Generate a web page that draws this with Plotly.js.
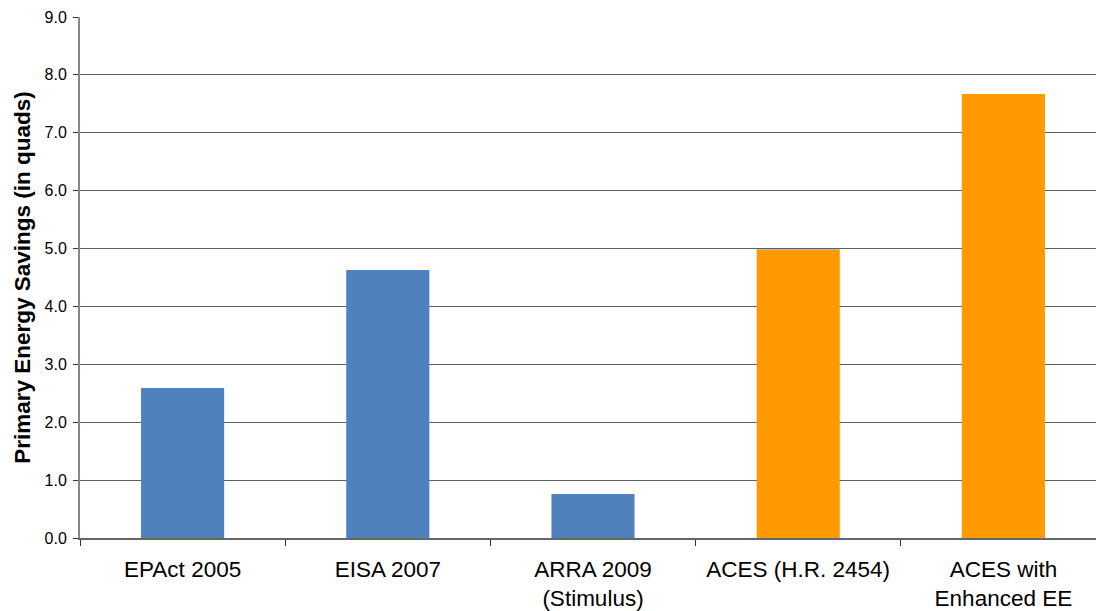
<!DOCTYPE html>
<html>
<head>
<meta charset="utf-8">
<script src="https://cdn.plot.ly/plotly-3.0.1.min.js"></script>
<style>
html, body { margin: 0; padding: 0; overflow: hidden; background: #fff; }
#chart { width: 1106px; height: 611px; }
</style>
</head>
<body>
<div id="chart"></div>
<script>
// Data
const categories = ['EPAct 2005', 'EISA 2007', 'ARRA 2009<br>(Stimulus)', 'ACES (H.R. 2454)', 'ACES with<br>Enhanced EE'];
const savings = [2.59, 4.63, 0.76, 4.99, 7.67];
const groups = ['enacted', 'enacted', 'enacted', 'proposed', 'proposed'];
const yTicks = [0, 1, 2, 3, 4, 5, 6, 7, 8, 9];

const groupColors = { enacted: '#4F81BD', proposed: '#FF9900' };
const FONT = 'Liberation Sans, Arial, sans-serif';

const trace = {
  type: 'bar',
  x: categories,
  y: savings,
  marker: { color: groups.map(g => groupColors[g]) },
  hoverinfo: 'x+y'
};

const layout = {
  width: 1106,
  height: 611,
  margin: { l: 80, r: 0, t: 17, b: 73 },
  paper_bgcolor: '#ffffff',
  plot_bgcolor: '#ffffff',
  showlegend: false,
  bargap: 0.595,
  font: { family: FONT, color: '#000000' },
  xaxis: {
    type: 'category',
    tickson: 'boundaries',
    ticks: 'outside',
    ticklen: 6,
    tickwidth: 1,
    tickcolor: '#333333',
    showline: true,
    linecolor: '#666666',
    linewidth: 2,
    showgrid: false,
    ticklabelstandoff: 10,
    tickfont: { family: FONT, size: 22.5, color: '#000000' },
    fixedrange: true
  },
  yaxis: {
    range: [0, 9],
    tickvals: yTicks,
    tickformat: '.1f',
    ticks: 'outside',
    ticklen: 5,
    tickwidth: 1,
    tickcolor: '#333333',
    showline: true,
    linecolor: '#888888',
    linewidth: 2,
    showgrid: true,
    gridcolor: '#606060',
    gridwidth: 1,
    zeroline: false,
    ticklabelstandoff: 3,
    tickfont: { family: FONT, size: 16, color: '#000000' },
    title: {
      text: '<b>Primary Energy Savings (in quads)</b>',
      font: { family: FONT, size: 22.5, color: '#000000' },
      standoff: 8
    },
    fixedrange: true
  }
};

Plotly.newPlot('chart', [trace], layout, { displayModeBar: false, staticPlot: true });
</script>
</body>
</html>
